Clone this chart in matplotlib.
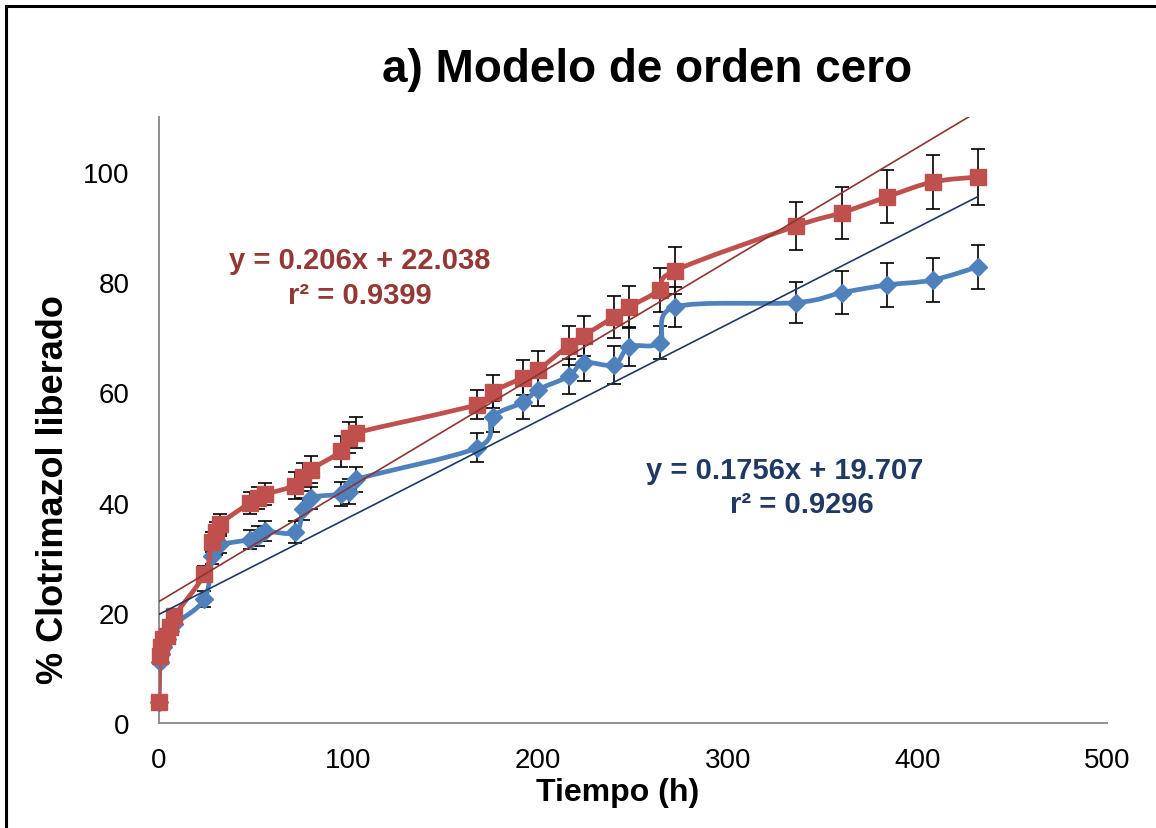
import matplotlib.pyplot as plt
from matplotlib.path import Path
from matplotlib.patches import PathPatch
import numpy as np

plt.rcParams['font.family'] = ['Liberation Sans', 'DejaVu Sans']

#%% DATA
tiempo = [0, 0.5, 1, 2, 4, 6, 8, 24, 28, 30, 32, 48, 52, 56, 72, 76, 80, 96, 100, 104,
          168, 176, 192, 200, 216, 224, 240, 248, 264, 272, 336, 360, 384, 408, 432]

liberado_rojo = [3.8, 12.1, 13.8, 15.2, 15.8, 17.4, 19.4, 27.0, 32.8, 34.6, 36.1, 40.0, 40.9, 41.5,
                 43.1, 44.6, 46.0, 49.3, 51.8, 52.7, 57.8, 60.1, 62.7, 64.1, 68.5, 70.3, 73.7,
                 75.5, 78.6, 82.1, 90.2, 92.6, 95.5, 98.2, 99.1]
error_rojo = [0.5, 0.5, 0.5, 0.5, 0.5, 0.5, 0.5, 1.5, 1.8, 1.8, 1.8, 2.0, 2.0, 2.0, 2.5, 2.5, 2.5,
              2.8, 2.8, 2.8, 2.7, 3.0, 3.2, 3.4, 3.6, 3.6, 3.8, 3.8, 4.0, 4.3, 4.4, 4.7, 4.8, 4.9, 5.0]

liberado_azul = [3.8, 11.1, 12.5, 13.8, 15.2, 16.7, 17.9, 22.5, 30.3, 31.9, 32.4, 33.3, 33.9, 34.8,
                 34.6, 38.8, 40.9, 41.5, 42.0, 44.2, 50.0, 55.6, 58.2, 60.5, 62.9, 65.4, 65.0,
                 68.3, 69.0, 75.5, 76.3, 78.1, 79.5, 80.4, 82.8]
error_azul = [0.5, 0.5, 0.5, 0.5, 0.5, 0.5, 0.5, 1.5, 1.5, 1.5, 1.5, 1.8, 1.8, 1.8, 2.0, 2.0, 2.0,
              2.2, 2.2, 2.2, 2.6, 2.8, 3.0, 3.0, 3.2, 3.4, 3.4, 3.5, 3.0, 3.7, 3.7, 3.9, 4.0, 4.0, 4.0]

# trend lines (Excel fit)
pend_rojo, int_rojo = 0.206, 22.038
pend_azul, int_azul = 0.1756, 19.707


def smooth_path(x, y):
    # Excel-like smoothed line: Catmull-Rom segments as cubic Bezier
    p = np.column_stack([x, y]).astype(float)
    verts = [p[0]]
    codes = [Path.MOVETO]
    n = len(p)
    for i in range(n - 1):
        p0 = p[i - 1] if i > 0 else p[i]
        p3 = p[i + 2] if i + 2 < n else p[i + 1]
        c1 = p[i] + (p[i + 1] - p0) / 6
        c2 = p[i + 1] - (p3 - p[i]) / 6
        verts += [c1, c2, p[i + 1]]
        codes += [Path.CURVE4] * 3
    return Path(verts, codes)


#%% PLOT
fig = plt.figure(figsize=(11.56, 8.29), dpi=100)
ax = fig.add_axes([0.1375, 0.1267, 0.8201, 0.731])

ax.errorbar(tiempo, liberado_azul, yerr=error_azul, fmt='none', ecolor='black',
            elinewidth=1.2, capsize=5, capthick=1.2, zorder=2)
ax.errorbar(tiempo, liberado_rojo, yerr=error_rojo, fmt='none', ecolor='black',
            elinewidth=1.2, capsize=5, capthick=1.2, zorder=2)

ax.add_patch(PathPatch(smooth_path(tiempo, liberado_azul), fill=False, edgecolor='#4F81BD',
                       lw=3.4, capstyle='round', joinstyle='round', zorder=3))
ax.plot(tiempo, liberado_azul, ls='none', marker='D', ms=9, mfc='#4F81BD', mec='#4F81BD',
        zorder=3, clip_on=False)
ax.add_patch(PathPatch(smooth_path(tiempo, liberado_rojo), fill=False, edgecolor='#C0504D',
                       lw=3.4, capstyle='round', joinstyle='round', zorder=4))
ax.plot(tiempo, liberado_rojo, ls='none', marker='s', ms=11, mfc='#C0504D', mec='#C0504D',
        zorder=4, clip_on=False)

xt = np.array([0, max(tiempo)])
ax.plot(xt, pend_rojo * xt + int_rojo, color='#8E3431', lw=1.2, zorder=5)
ax.plot(xt, pend_azul * xt + int_azul, color='#1F3864', lw=1.2, zorder=5)

ax.set_xlim(0, 500)
ax.set_ylim(0, 110)
ax.set_xticks([0, 100, 200, 300, 400, 500])
ax.set_yticks([0, 20, 40, 60, 80, 100])
ax.tick_params(length=0, labelsize=20)
ax.tick_params(axis='x', pad=17)
ax.tick_params(axis='y', pad=21)
for s in ['top', 'right']:
    ax.spines[s].set_visible(False)
for s in ['left', 'bottom']:
    ax.spines[s].set_color('#868686')
    ax.spines[s].set_linewidth(1.3)

ax.text(106, 84.1, 'y = 0.206x + 22.038', color='#953735', fontsize=21,
        fontweight='bold', ha='center', va='center')
ax.text(106, 77.7, 'r² = 0.9399', color='#953735', fontsize=21,
        fontweight='bold', ha='center', va='center')
ax.text(330, 46.0, 'y = 0.1756x + 19.707', color='#1F3864', fontsize=21,
        fontweight='bold', ha='center', va='center')
ax.text(339, 39.7, 'r² = 0.9296', color='#1F3864', fontsize=21,
        fontweight='bold', ha='center', va='center')

fig.text(0.56, 0.9156, 'a) Modelo de orden cero', fontsize=33, fontweight='bold',
         ha='center', va='center')
fig.text(0.534, 0.0434, 'Tiempo (h)', fontsize=23, fontweight='bold',
         ha='center', va='center')
fig.text(0.046, 0.409, '% Clotrimazol liberado', fontsize=26, fontweight='bold',
         ha='center', va='center', rotation=90)

# chart border (cropped at right and bottom)
fig.patches.append(plt.Rectangle((0.005, -0.1), 1.2, 1.0916, transform=fig.transFigure,
                                 fill=False, edgecolor='black', lw=2.2))

fig.savefig('out.png', dpi=100)
